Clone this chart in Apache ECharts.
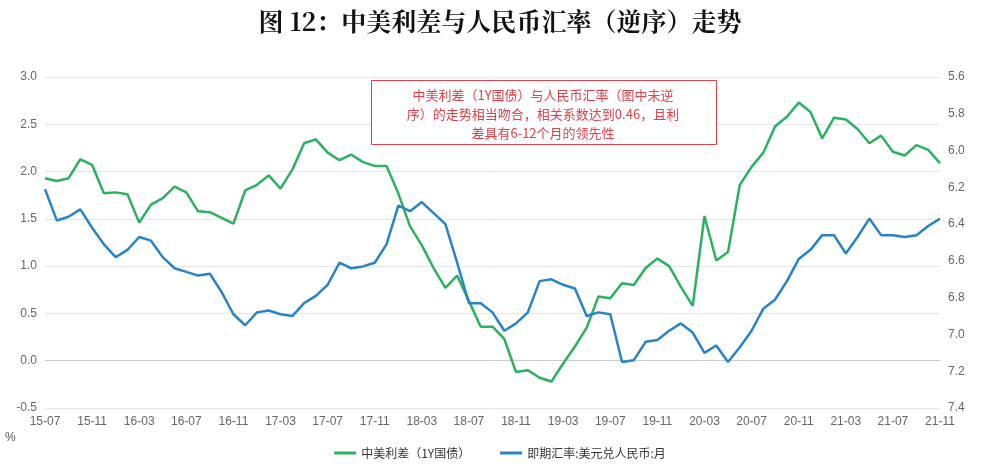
<!DOCTYPE html>
<html><head><meta charset="utf-8">
<script src="https://cdn.jsdelivr.net/npm/echarts@6/dist/echarts.min.js"></script>
<style>body{margin:0}#c{width:1000px;height:470px}</style></head>
<body><div id="c"></div>
<script>
const startYear=2015,startMonth=7,nMonths=77;
const categories=[];
for(let i=0;i<nMonths;i++){const m=(startMonth-1+i)%12+1,y=startYear+Math.floor((startMonth-1+i)/12);categories.push(String(y).slice(2)+'-'+String(m).padStart(2,'0'));}
const spread=[1.93,1.90,1.93,2.13,2.07,1.77,1.78,1.76,1.46,1.65,1.72,1.84,1.78,1.58,1.57,1.51,1.45,1.80,1.86,1.96,1.82,2.02,2.30,2.34,2.20,2.12,2.18,2.10,2.06,2.06,1.77,1.42,1.22,0.98,0.77,0.90,0.63,0.36,0.36,0.23,-0.12,-0.10,-0.18,-0.22,-0.03,0.15,0.35,0.68,0.66,0.82,0.80,0.98,1.08,1.00,0.78,0.58,1.53,1.06,1.15,1.86,2.05,2.20,2.48,2.58,2.73,2.63,2.35,2.57,2.55,2.45,2.30,2.38,2.21,2.17,2.28,2.23,2.09];
const fx=[6.21,6.38,6.36,6.32,6.42,6.51,6.58,6.54,6.47,6.49,6.58,6.64,6.66,6.68,6.67,6.77,6.89,6.95,6.88,6.87,6.89,6.90,6.83,6.79,6.73,6.61,6.64,6.63,6.61,6.51,6.30,6.33,6.28,6.34,6.40,6.61,6.83,6.83,6.88,6.98,6.94,6.88,6.71,6.70,6.73,6.75,6.90,6.88,6.89,7.15,7.14,7.04,7.03,6.98,6.94,6.99,7.10,7.06,7.15,7.07,6.98,6.86,6.81,6.71,6.59,6.54,6.46,6.46,6.56,6.47,6.37,6.46,6.46,6.47,6.46,6.41,6.37];
const chart=echarts.init(document.getElementById('c'));
const lab={color:'#666',fontSize:12,fontFamily:'Liberation Sans'};
chart.setOption({
 title:{text:'图 12：中美利差与人民币汇率（逆序）走势',left:'center',top:4,textStyle:{fontFamily:'Noto Serif CJK SC, Noto Sans CJK SC',fontSize:25,fontWeight:'bold',color:'#111'}},
 grid:{left:45,right:60,top:77,bottom:62},
 legend:{bottom:6,left:'center',itemWidth:22,itemHeight:3,icon:'rect',itemGap:30,textStyle:{fontSize:12,color:'#333',fontFamily:'Noto Sans CJK SC'}},
 graphic:[{type:'text',left:5,top:432,style:{text:'%',fill:'#555',font:'12px Liberation Sans'}},
  {type:'rect',left:371,top:80,shape:{width:345,height:64},style:{fill:'#fff',stroke:'#e0404a',lineWidth:1},z:100},
  {type:'text',z:101,style:{x:543,y:86,text:'中美利差（1Y国债）与人民币汇率（图中未逆\n序）的走势相当吻合，相关系数达到0.46，且利\n差具有6-12个月的领先性',fill:'#e0404a',font:'13px Noto Sans CJK SC',textAlign:'center',textVerticalAlign:'top',lineHeight:19}}],
 xAxis:{type:'category',data:categories,boundaryGap:false,axisLabel:Object.assign({interval:3},lab),axisTick:{show:false},axisLine:{lineStyle:{color:'#ccc'}}},
 yAxis:[{type:'value',min:-0.5,max:3.0,interval:0.5,axisLabel:Object.assign({formatter:v=>v.toFixed(1)},lab),splitLine:{lineStyle:{color:'#e6e6e6'}},axisLine:{show:false},axisTick:{show:false}},
  {type:'value',inverse:true,min:5.6,max:7.4,interval:0.2,axisLabel:Object.assign({formatter:v=>v.toFixed(1)},lab),splitLine:{show:false},axisLine:{show:false},axisTick:{show:false}}],
 series:[{name:'中美利差（1Y国债）',type:'line',data:spread,symbol:'none',lineStyle:{width:2.5,color:'#2bb161'},itemStyle:{color:'#2bb161'}},
  {name:'即期汇率:美元兑人民币:月',type:'line',yAxisIndex:1,data:fx,symbol:'none',lineStyle:{width:2.5,color:'#2a83c6'},itemStyle:{color:'#2a83c6'}}]
});
</script></body></html>
